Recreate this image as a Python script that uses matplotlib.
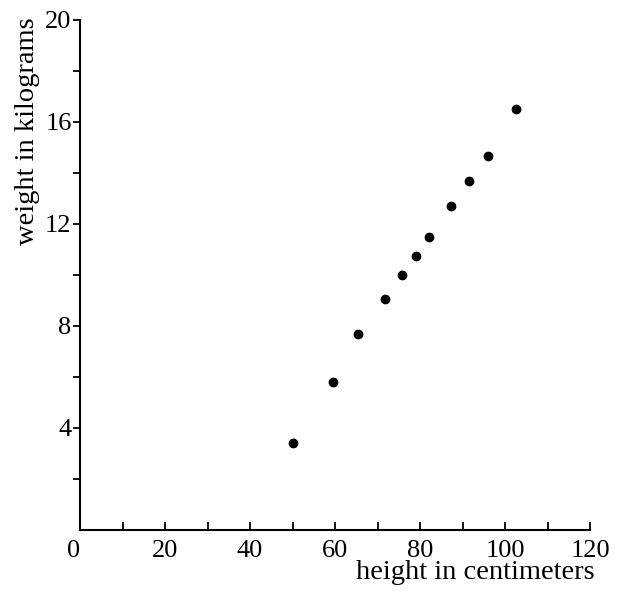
import numpy as np
import matplotlib
matplotlib.use('Agg')
import matplotlib.pyplot as plt

# data
height_cm = [50, 59.5, 65.5, 71.7, 75.7, 79, 82, 87.4, 91.5, 95.9, 102.5]
weight_kg = [3.4, 5.8, 7.7, 9.05, 10.0, 10.75, 11.5, 12.7, 13.7, 14.65, 16.5]

x_ticks = [0, 20, 40, 60, 80, 100, 120]
y_ticks = [4, 8, 12, 16, 20]

plt.rcParams['font.family'] = ['Liberation Serif', 'DejaVu Serif']

fig = plt.figure(figsize=(6.22, 5.92), dpi=100)
ax = fig.add_axes([80/622, 1 - 530/592, 510/622, 510/592])

ax.plot(height_cm, weight_kg, 'o', color='black', markersize=6)

ax.set_xlim(0, 120)
ax.set_ylim(0, 20)

ax.spines['top'].set_visible(False)
ax.spines['right'].set_visible(False)
ax.spines['left'].set_linewidth(1.5)
ax.spines['bottom'].set_linewidth(1.5)

ax.set_xticks(x_ticks)
ax.set_xticks(np.arange(10, 120, 20), minor=True)
ax.set_yticks(y_ticks)
ax.set_yticks(np.arange(2, 20, 4), minor=True)

ax.tick_params(axis='x', which='both', direction='in', length=6, width=1.3,
               labelsize=19, pad=7)
ax.tick_params(axis='y', which='both', direction='out', length=5, width=1.3,
               labelsize=19, pad=1)
for lbl in ax.get_xticklabels():
    if lbl.get_text() == '0':
        lbl.set_ha('right')

ax.set_xlabel('height in centimeters', fontsize=20.5, loc='right')
ax.xaxis.set_label_coords(1.01, -0.058)
ax.set_ylabel('weight in kilograms', fontsize=20.5, loc='top')
ax.yaxis.set_label_coords(-0.078, 1.005)

fig.savefig('out.png', dpi=100)
